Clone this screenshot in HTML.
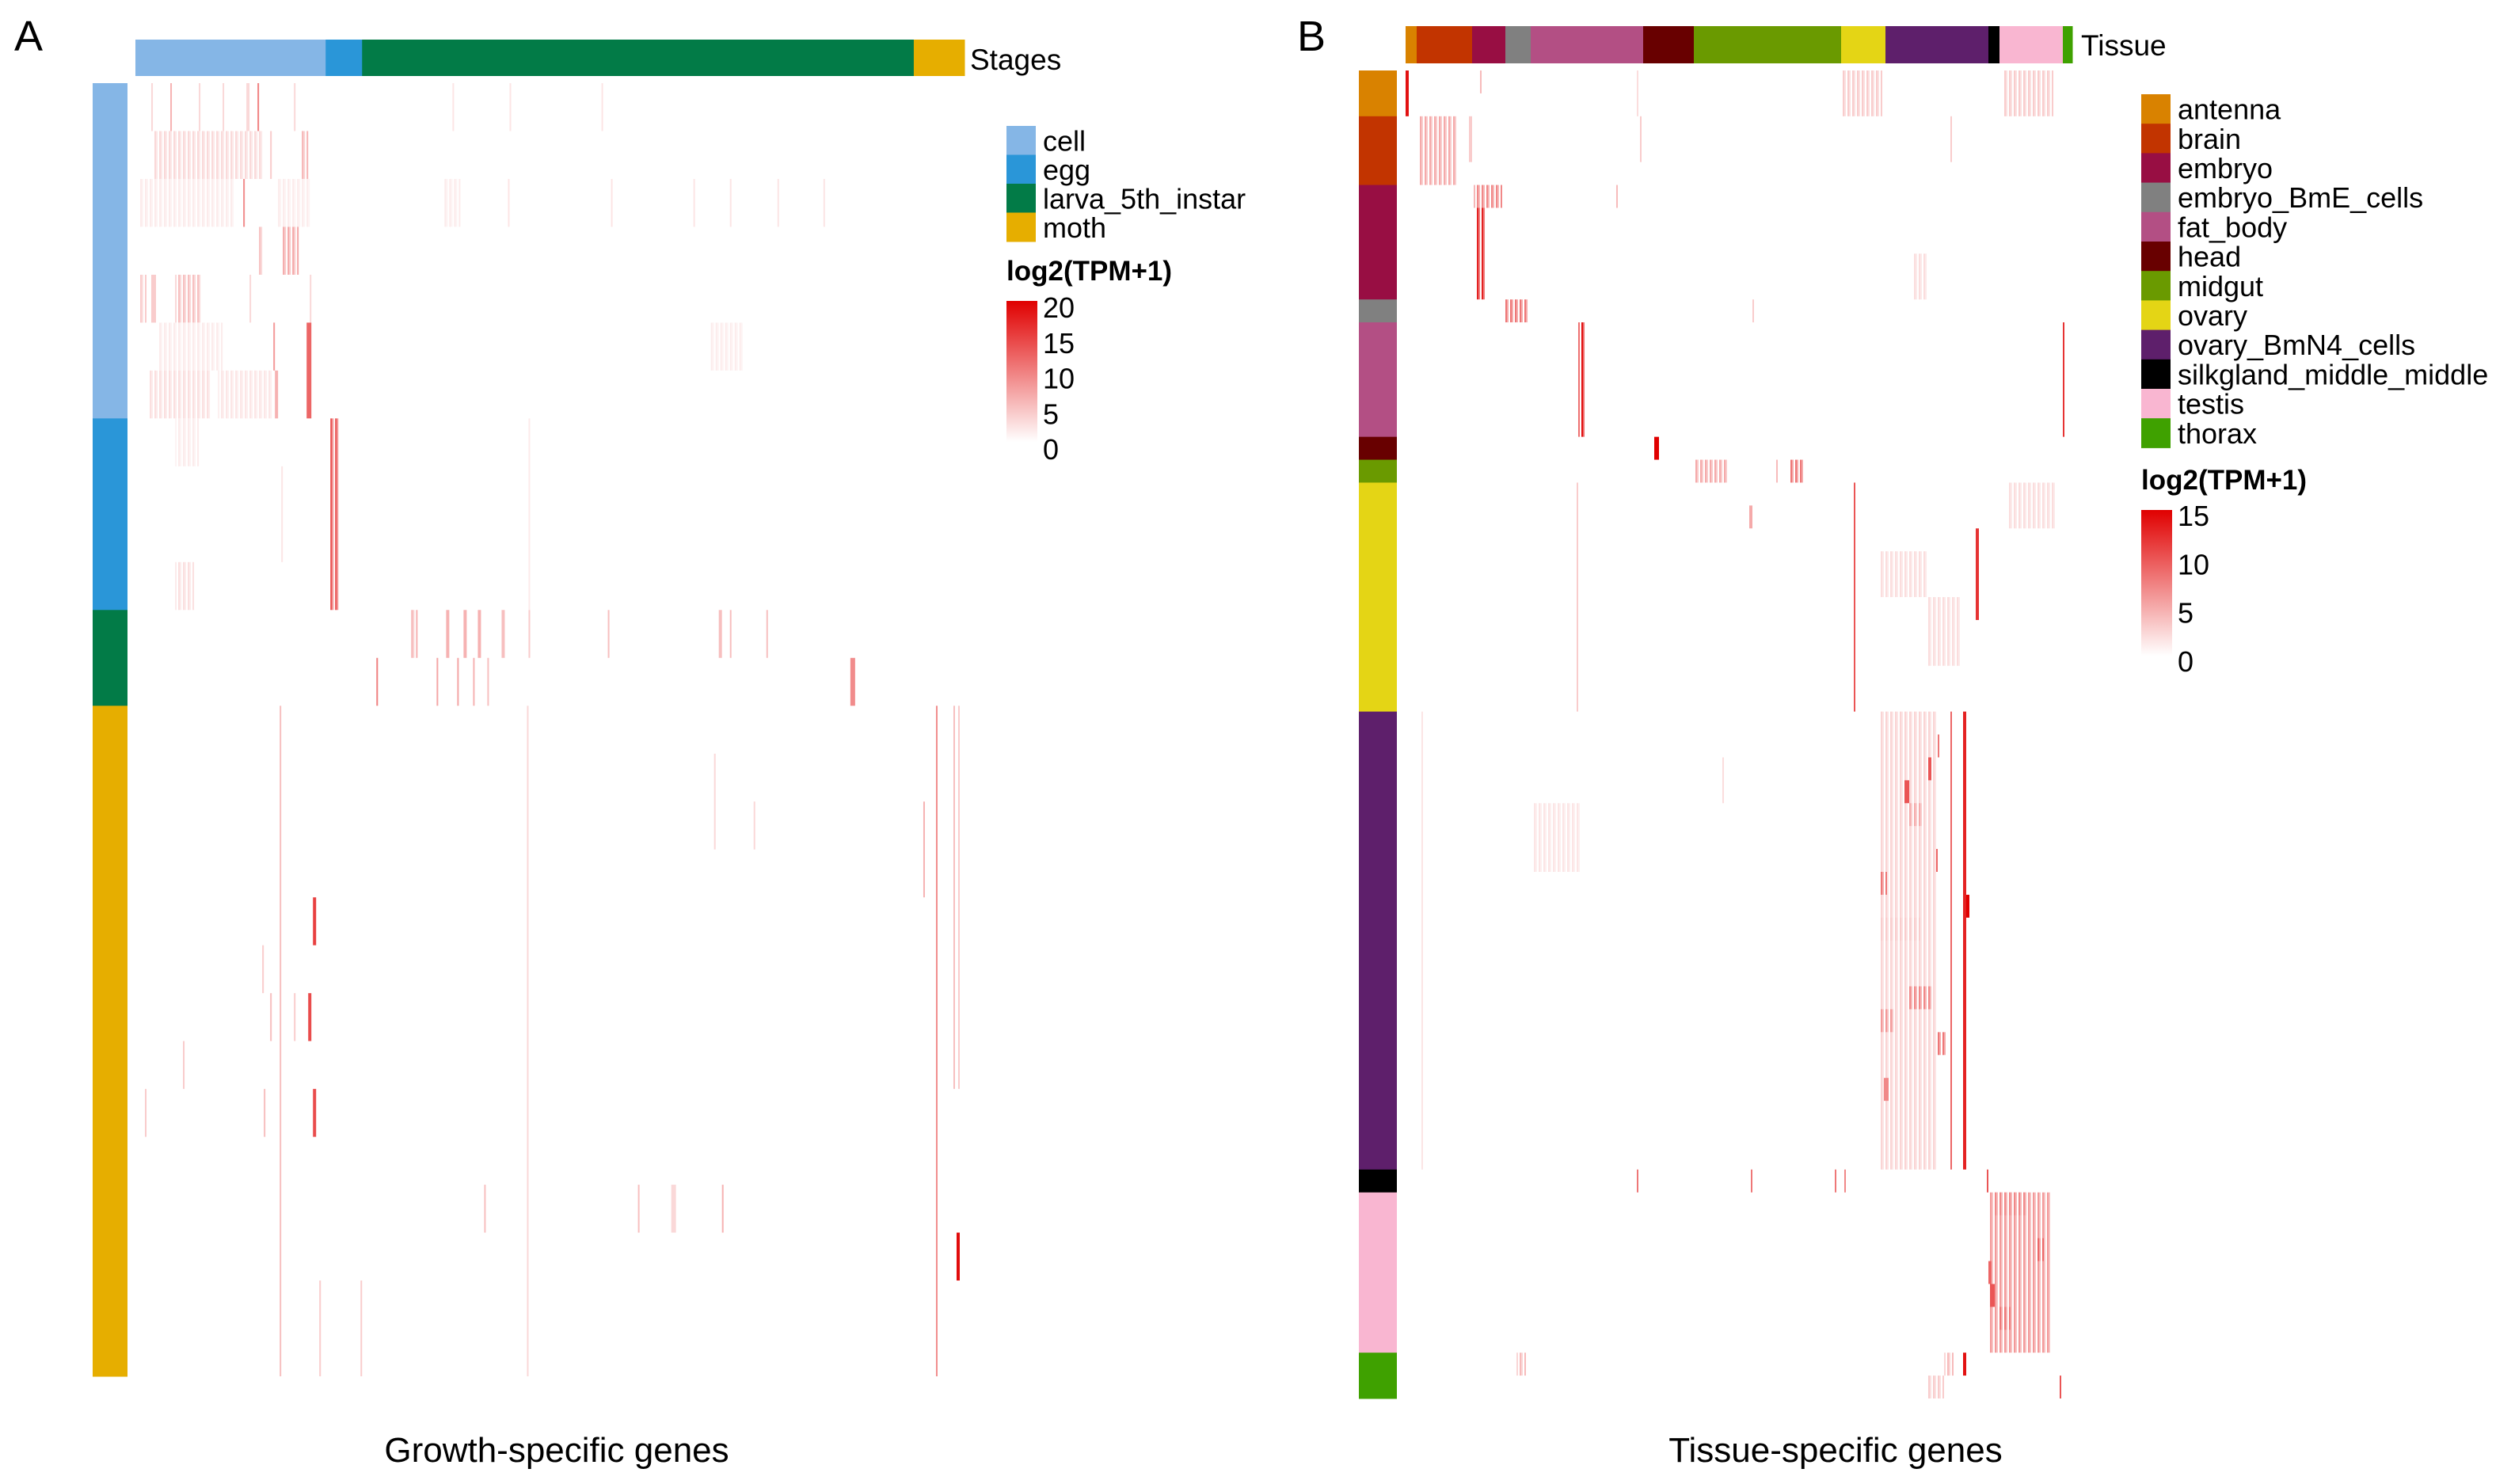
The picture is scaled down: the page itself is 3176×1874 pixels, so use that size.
<!DOCTYPE html>
<html><head><meta charset="utf-8"><style>
html,body{margin:0;padding:0;background:#fff;}
svg{display:block;font-family:"Liberation Sans",Arial,sans-serif;}
</style></head><body>
<svg id="fig" width="3176" height="1874" viewBox="0 0 3176 1874" xmlns="http://www.w3.org/2000/svg">
<text x="18" y="64" font-size="54">A</text>
<text x="1638" y="64" font-size="54">B</text>
<text x="703" y="1846" font-size="44" text-anchor="middle">Growth-specific genes</text>
<text x="2318" y="1846" font-size="44" text-anchor="middle">Tissue-specific genes</text>
<text x="1225" y="88" font-size="37">Stages</text>
<text x="2628" y="70" font-size="37">Tissue</text>
<defs>
<linearGradient id="cbar" x1="0" y1="1" x2="0" y2="0">
<stop offset="0" stop-color="#ffffff"/><stop offset="0.5" stop-color="#f08080"/><stop offset="1" stop-color="#e00000"/>
</linearGradient>
</defs>
<g id="gA"></g>
<g id="gB"></g>
<g id="legA"></g>
<g id="legB"></g>
</svg>
<script>
// ---- Panel A data ----
const stageNames = ["cell","egg","larva_5th_instar","moth"];
const stageColors = ["#85b6e6","#2a96d8","#027b47","#e6ae00"];
const stageGeneCounts = [120,23,348,32];
const stageSampleCounts = [7,4,2,14];
// marks: [rowStart,rowEnd,geneStart,geneWidth,value]
const marksA = [
[0,1,22,1,6],[0,1,77,1,10],[0,1,10,1,3],[0,1,40,1,3],[0,1,55,1,3],[0,1,70,2,3],[0,1,100,1,3],[0,1,200,1,2],[0,1,236,1,2],[0,1,294,1,2],
[1,2,12,68,3],[1,2,105,4,6],[1,2,85,1,4],
[2,3,68,1,9],[2,3,2,60,1.5],[2,3,90,20,1.5],[2,3,195,10,1.5],[2,3,235,1,2],[2,3,300,1,2],[2,3,352,1,2],[2,3,375,1,2],[2,3,405,1,2],[2,3,434,1,2],
[3,4,77,4,5],[3,4,93,10,7],
[4,5,25,17,5],[4,5,3,4,4],[4,5,10,3,4],[4,5,72,1,3],[4,5,110,1,3],
[5,7,108,3,12],[5,6,87,1,8],[5,6,15,40,1.5],[5,6,363,20,1.5],[6,7,8,40,2.5],[6,7,52,34,2],[6,7,88,2,6],
[7,11,123,5,14],[7,8,25,15,1.5],[10,11,25,12,2.5],[7,11,248,1,1.5],[8,10,92,1,2],
[11,12,173,5,6],[11,12,196,2,6],[11,12,207,2,6],[11,12,216,2,6],[11,12,231,2,5],[11,12,248,1,4],[11,12,298,1,5],[11,12,368,2,5],[11,12,375,1,5],[11,12,398,1,5],
[12,13,152,1,10],[12,13,190,1,7],[12,13,203,1,7],[12,13,213,1,6],[12,13,222,1,5],[12,13,451,3,9],
[13,27,91,1,5],[13,27,247,1,3],[13,27,505,1,9],[13,21,516,1,5],[13,21,519,1,4],[15,17,497,1,6],[14,16,365,1,3],[15,16,390,1,3],
[17,18,112,2,15],[19,20,109,2,14],[21,22,112,2,14],[24,25,518,2,19],[23,24,370,1,6],[23,24,317,1,5],[23,24,338,3,3],[21,22,81,1,5],[21,22,6,1,4],[23,24,220,1,5],
[19,20,85,1,5],[19,20,100,1,4],[18,19,80,1,4],[20,21,30,1,4],[25,27,142,1,4],[25,27,116,1,4]
];
// ---- Panel B data ----
const tissueNames = ["antenna","brain","embryo","embryo_BmE_cells","fat_body","head","midgut","ovary","ovary_BmN4_cells","silkgland_middle_middle","testis","thorax"];
const tissueColors = ["#d98200","#c23400","#980e43","#808080","#b34f84","#680000","#6a9a00","#e4d515","#5e1f6b","#000000","#f9b6d1","#3fa100"];
const tissueGeneCounts = [7,35,21,16,71,32,93,28,65,7,40,6];
const tissueSampleCounts = [2,3,5,1,5,1,1,10,20,1,7,2];
const marksB = [
[0,2,0,2,14],[0,2,275,26,3],[0,2,377,32,3],[0,1,47,1,4],[0,2,146,1,2],
[2,5,8,25,5],[2,4,40,2,3],[2,4,148,1,3],[2,4,344,1,3],
[5,6,43,18,7],[6,10,45,5,13],[5,6,133,1,4],[8,10,320,10,2],
[10,11,63,15,8],[10,11,219,1,3],
[11,16,109,4,14],[11,16,415,1,12],
[16,17,157,3,15],
[17,18,183,20,5],[17,18,243,9,8],[17,18,234,1,4],
[18,28,283,1,10],[20,24,360,2,12],[18,28,108,1,3],[18,20,380,30,2],[19,20,217,2,5],[21,23,300,30,2],[23,26,330,20,2],
[28,48,352,2,13],[28,48,344,1,9],[28,48,299,36,2.5],[35,36,300,4,8],[40,41,318,14,7],[41,42,300,8,6],[42,43,336,5,8],[44,45,302,3,7],[36,37,354,2,15],
[30,31,330,2,10],[31,32,315,3,10],[32,33,317,10,5],[29,30,336,1,8],[34,35,335,1,9],[37,38,300,25,3],
[28,48,10,1,1.5],[30,32,200,1,2],[32,35,80,30,1.5],
[48,49,367,1,10],[48,49,146,1,8],[48,49,218,1,8],[48,49,271,1,8],[48,49,277,1,7],
[49,56,369,38,6],[51,52,398,5,9],[52,53,368,2,9],[53,54,369,3,10],[54,55,374,8,8],[49,50,372,20,7],
[56,57,352,2,14],[57,58,413,1,10],[56,57,70,6,4],[57,58,330,10,3],[56,57,340,6,4]
];
const legendTicksA = [20,15,10,5,0];
const legendTicksB = [15,10,5,0];

const NS="http://www.w3.org/2000/svg";
function mk(parent,tag,attrs,txt){const e=document.createElementNS(NS,tag);for(const k in attrs)e.setAttribute(k,attrs[k]);if(txt!==undefined)e.textContent=txt;parent.appendChild(e);return e;}
function heatColor(v,max){let t=Math.max(0,Math.min(1,v/max));
  let r,g,b; if(t<0.5){const u=t/0.5;r=255+(240-255)*u;g=255+(128-255)*u;b=255+(128-255)*u;}
  else{const u=(t-0.5)/0.5;r=240+(224-240)*u;g=128*(1-u);b=128*(1-u);}
  return `rgb(${r|0},${g|0},${b|0})`;}

function drawPanel(g,cfg){
  const nGenes=cfg.geneCounts.reduce((a,b)=>a+b,0);
  const nRows=cfg.sampleCounts.reduce((a,b)=>a+b,0);
  const xs=gi=>cfg.x0+gi*(cfg.x1-cfg.x0)/nGenes;
  const ys=ri=>cfg.y0+ri*(cfg.y1-cfg.y0)/nRows;
  let acc=0;
  cfg.geneCounts.forEach((n,i)=>{
    const r=mk(g,'rect',{x:xs(acc),y:cfg.topY0,width:xs(acc+n)-xs(acc)+0.5,height:cfg.topY1-cfg.topY0,fill:cfg.colors[i]});
    
    
    acc+=n;});
  acc=0;
  cfg.sampleCounts.forEach((n,i)=>{
    const r=mk(g,'rect',{x:cfg.sideX0,y:ys(acc),width:cfg.sideX1-cfg.sideX0,height:ys(acc+n)-ys(acc)+0.5,fill:cfg.colors[i]});
    
    
    acc+=n;});
  cfg.marks.forEach(m=>{
    if(m[3]<4){
      const r=mk(g,'rect',{x:xs(m[2]),y:ys(m[0]),width:xs(m[2]+m[3])-xs(m[2]),height:ys(m[1])-ys(m[0]),fill:heatColor(m[4],cfg.max)});
      
      
    } else {
      // wide blocks are drawn as streaks (alternate gene columns)
      for(let gi=m[2];gi<m[2]+m[3];gi++){
        const k=gi%3; if(k===2) continue;
        const v=k===0?m[4]:m[4]*0.6;
        const r=mk(g,'rect',{x:xs(gi),y:ys(m[0]),width:xs(gi+1)-xs(gi),height:ys(m[1])-ys(m[0]),fill:heatColor(v,cfg.max)});
        
        
      }
    }
  });
}
drawPanel(document.getElementById('gA'),{names:stageNames,colors:stageColors,geneCounts:stageGeneCounts,sampleCounts:stageSampleCounts,marks:marksA,max:20,
  x0:171,x1:1218,y0:105,y1:1738,topY0:50,topY1:96,sideX0:117,sideX1:161});
drawPanel(document.getElementById('gB'),{names:tissueNames,colors:tissueColors,geneCounts:tissueGeneCounts,sampleCounts:tissueSampleCounts,marks:marksB,max:15,
  x0:1775,x1:2617,y0:89,y1:1766,topY0:33,topY1:80,sideX0:1716,sideX1:1764});

function drawLegend(g,cfg){
  cfg.names.forEach((n,i)=>{
    const y=cfg.y0+i*cfg.step;
    const r=mk(g,'rect',{x:cfg.bx,y:y,width:37,height:cfg.step+0.5,fill:cfg.colors[i]});
    
    
    const t=mk(g,'text',{x:cfg.bx+46,y:y+cfg.step/2+13,'font-size':36},n);
    
    
  });
  const tt=mk(g,'text',{x:cfg.bx,y:cfg.titleY,'font-size':35,'font-weight':'bold'},'log2(TPM+1)');
  
  
  const cb=mk(g,'rect',{x:cfg.bx,y:cfg.cb0,width:39,height:cfg.cb1-cfg.cb0,fill:'url(#cbar)'});
  
  
  const mx=cfg.ticks[0];
  cfg.ticks.forEach(v=>{
    const y=cfg.l1+(cfg.l0-cfg.l1)*(v/mx);
    const t=mk(g,'text',{x:cfg.bx+46,y:y+13,'font-size':36},String(v));
    
    
  });
}
drawLegend(document.getElementById('legA'),{names:stageNames,colors:stageColors,bx:1271,y0:159,step:36.5,titleY:354,cb0:380,cb1:558,ticks:legendTicksA,l0:388,l1:567});
drawLegend(document.getElementById('legB'),{names:tissueNames,colors:tissueColors,bx:2704,y0:119,step:37.2,titleY:618,cb0:644,cb1:828,ticks:legendTicksB,l0:651,l1:835});
</script>
</body></html>
